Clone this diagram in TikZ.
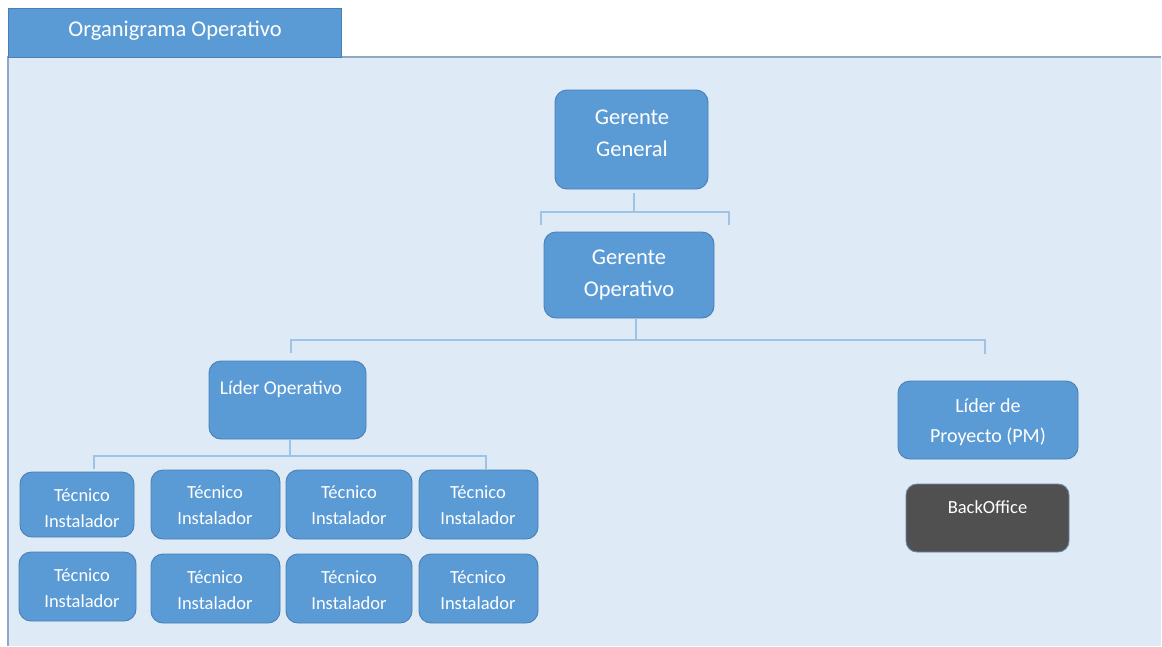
\documentclass[tikz,border=0pt]{standalone}
\usepackage{fontspec}
\setmainfont{Carlito}
\definecolor{panelfill}{HTML}{DEEAF6}
\definecolor{panelline}{HTML}{8FA9C6}
\definecolor{boxblue}{HTML}{5B9BD5}
\definecolor{boxedge}{HTML}{4A7FB3}
\definecolor{darkbox}{HTML}{505050}
\definecolor{darkedge}{HTML}{6A86A6}
\definecolor{connblue}{HTML}{9DC3E6}
\tikzset{
  box/.style={draw=boxedge, line width=0.9pt, fill=boxblue, rounded corners=12pt, inner sep=0pt},
  dbox/.style={draw=darkedge, line width=0.9pt, fill=darkbox, rounded corners=11pt, inner sep=0pt},
  txt/.style={text=white, align=center, inner sep=0pt},
  conn/.style={draw=connblue, line width=1.3pt},
  big/.style={font=\fontsize{22.5}{32}\selectfont},
  mid/.style={font=\fontsize{20}{30}\selectfont},
  small/.style={font=\fontsize{18.5}{26}\selectfont}
}
\newcommand{\boxat}[6]{% name, style, x1, y1, x2, y2
  \node[#2, minimum width=#5pt-#3pt, minimum height=#6pt-#4pt] (#1) at ({(#3+#5)/2},{(#4+#6)/2}) {};}
\begin{document}
\begin{tikzpicture}[x=1pt,y=-1pt]
\useasboundingbox (0,0) rectangle (1162,646);
\fill[white] (0,0) rectangle (1162,646);
% panel and title tab
\fill[panelfill] (8,57) rectangle (1161,646);
\draw[panelline, line width=1.2pt] (8,646) -- (8,57) -- (1161,57);
\node[fill=boxblue, draw=boxedge, line width=0.6pt, minimum width=333pt, minimum height=49pt, inner sep=0pt] (tab) at (174.5,32.5) {};
\node[txt, font=\fontsize{22.5}{26}\selectfont] (tabtitle) at (175,31) {Organigrama Operativo};

% management boxes
\boxat{gg}{box}{555}{90}{708}{189}
\node[txt, big] (ggt) at (632,133) {Gerente\\General};
\boxat{go}{box}{544}{232}{714}{318}
\node[txt, big] (got) at (629,275) {Gerente\\Operativo};

\boxat{lo}{box}{209}{361}{366}{439}
\node[txt, font=\fontsize{19.5}{22}\selectfont] (lot) at (281,389) {Líder Operativo};
\boxat{lp}{box}{898}{381}{1078}{459}
\node[txt, mid] (lpt) at (988,422) {Líder de\\Proyecto (PM)};
\boxat{bo}{dbox}{906}{484}{1069}{552}
\node[txt, font=\fontsize{18.5}{22}\selectfont] (bot) at (987.5,507) {BackOffice};

% technician boxes
\boxat{t1}{box}{20}{472}{134}{537}
\boxat{t2}{box}{151}{470}{280}{539}
\boxat{t3}{box}{286}{470}{412}{539}
\boxat{t4}{box}{419}{470}{538}{539}
\boxat{t5}{box}{19}{552}{136}{621}
\boxat{t6}{box}{151}{554}{280}{623}
\boxat{t7}{box}{286}{554}{412}{623}
\boxat{t8}{box}{419}{554}{538}{623}
\node[txt, small] (t1t) at (82,508) {Técnico\\Instalador};
\node[txt, small] (t2t) at (215,505) {Técnico\\Instalador};
\node[txt, small] (t3t) at (349,505) {Técnico\\Instalador};
\node[txt, small] (t4t) at (478,505) {Técnico\\Instalador};
\node[txt, small] (t5t) at (82,588) {Técnico\\Instalador};
\node[txt, small] (t6t) at (215,590) {Técnico\\Instalador};
\node[txt, small] (t7t) at (349,590) {Técnico\\Instalador};
\node[txt, small] (t8t) at (478,590) {Técnico\\Instalador};

% connectors
\coordinate (s1) at (634,212);
\coordinate (b1l) at (541,212); \coordinate (b1r) at (729,212);
\draw[conn] ([yshift=-4pt]gg.south -| s1) -- (s1);
\draw[conn] (541,225) -- (b1l) -- (b1r) -- (729,225);

\coordinate (s2) at (636,340);
\coordinate (b2l) at (291,340); \coordinate (b2r) at (985,340);
\draw[conn] (go.south -| s2) -- (s2);
\draw[conn] (291,353) -- (b2l) -- (b2r) -- (985,354);

\coordinate (s3) at (290,456);
\coordinate (b3l) at (94,456); \coordinate (b3r) at (486,456);
\draw[conn] (lo.south -| s3) -- (s3);
\draw[conn] (94,469) -- (b3l) -- (b3r) -- (486,469);
\end{tikzpicture}
\end{document}
